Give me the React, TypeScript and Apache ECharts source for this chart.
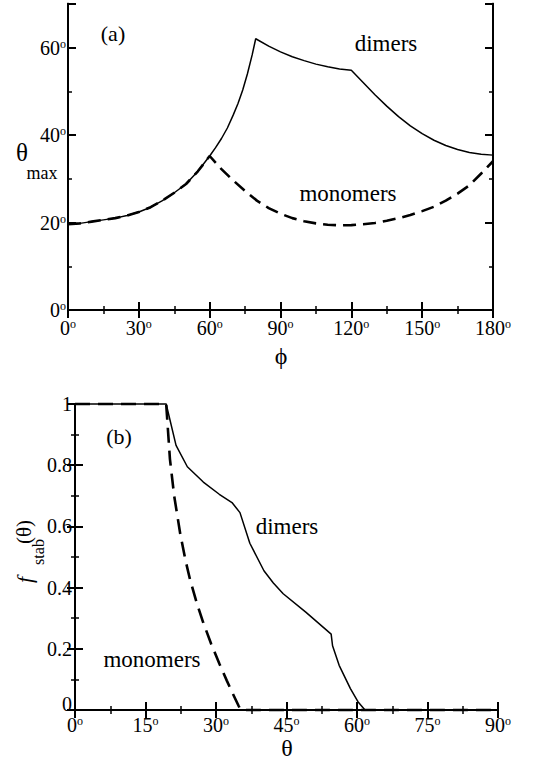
import React, { useEffect, useRef } from "react";
import * as echarts from "echarts";

// Panel (a): theta_max vs phi
const phiDimers = [0, 5, 10, 15, 20, 25, 30, 35, 40, 45, 50, 55, 60, 62.5, 65, 67.5, 70, 72, 74, 76, 78, 79.5, 85, 90, 95, 100, 105, 110, 115, 120, 125, 130, 135, 140, 145, 150, 155, 160, 165, 170, 175, 180];
const thetaMaxDimers = [19.6, 19.8, 20.2, 20.6, 21.0, 21.6, 22.4, 23.5, 25.0, 26.8, 28.8, 31.7, 35.2, 37.1, 39.2, 41.6, 44.6, 47.2, 50.3, 54, 58.3, 62, 60.3, 59, 57.9, 57, 56.2, 55.6, 55.1, 54.8, 52, 49.2, 46.6, 44.2, 42.1, 40.3, 38.8, 37.6, 36.7, 36.0, 35.6, 35.4];
const phiMonomers = [0, 5, 10, 15, 20, 25, 30, 35, 40, 45, 50, 55, 60, 65, 70, 75, 80, 85, 90, 95, 100, 105, 110, 115, 120, 125, 130, 135, 140, 145, 150, 155, 160, 165, 170, 175, 180];
const thetaMaxMonomers = [19.6, 19.8, 20.2, 20.6, 21.0, 21.6, 22.4, 23.5, 25.0, 26.8, 28.8, 31.7, 35.2, 32.2, 29.6, 27.2, 25.0, 23.3, 22.0, 21.0, 20.3, 19.8, 19.5, 19.35, 19.4, 19.6, 19.9, 20.4, 21.0, 21.7, 22.6, 23.6, 25.0, 26.6, 28.5, 31.2, 34];

// Panel (b): f_stab(theta)
const thetaDimers = [0, 19.4, 21.5, 23.9, 27.3, 30.7, 33.4, 35.1, 37.2, 40.2, 42.2, 44.3, 49.1, 54.5, 54.8, 56.2, 58.6, 60.2, 61.7, 90];
const fDimers = [1, 1, 0.865, 0.795, 0.745, 0.705, 0.678, 0.645, 0.545, 0.455, 0.415, 0.38, 0.32, 0.248, 0.21, 0.146, 0.07, 0.027, 0, 0];
const thetaMonomers = [0, 19.4, 20.2, 21.1, 22.4, 23.5, 24.5, 26, 27.3, 29, 30.7, 32.3, 33.5, 34.8, 35.25, 90];
const fMonomers = [1, 1, 0.82, 0.70, 0.575, 0.49, 0.425, 0.345, 0.285, 0.215, 0.152, 0.096, 0.056, 0.014, 0, 0];

const FONT = "Liberation Serif";

const zip = (xs: number[], ys: number[]) => xs.map((x, i) => [x, ys[i]]);

const degRich = {
  n: { fontSize: 20, fontFamily: FONT, color: "#000", lineHeight: 20 },
  d: { fontSize: 12, fontFamily: FONT, color: "#000", lineHeight: 12, verticalAlign: "top" as const },
};

function xAxisDef(gridIndex: number, max: number, interval: number, position: string, showLabel: boolean, margin: number) {
  return {
    type: "value",
    gridIndex,
    min: 0,
    max,
    interval,
    position,
    axisLine: { show: true, lineStyle: { color: "#000", width: 2 } },
    axisTick: { show: true, inside: true, length: 8, lineStyle: { color: "#000", width: 2 } },
    minorTick: { show: true, splitNumber: 2, length: 4, lineStyle: { color: "#000", width: 1.5 } },
    splitLine: { show: false },
    minorSplitLine: { show: false },
    axisLabel: {
      show: showLabel,
      margin,
      fontFamily: FONT,
      fontSize: 20,
      color: "#000",
      formatter: (v: number) => `{n|${Math.round(v)}}{d|o}`,
      rich: degRich,
    },
  };
}

export default function App() {
  const ref = useRef<HTMLDivElement>(null);
  useEffect(() => {
    if (!ref.current) return;
    const chart = echarts.init(ref.current, undefined, { renderer: "svg" });
    const yTickA = (position: string, interval: number, len: number, showLabel: boolean) => ({
      type: "value",
      gridIndex: 0,
      min: 0,
      max: 70,
      interval,
      position,
      axisLine: { show: true, lineStyle: { color: "#000", width: 2 } },
      axisTick: { show: true, inside: true, length: len, lineStyle: { color: "#000", width: len > 5 ? 2 : 1.5 } },
      splitLine: { show: false },
      axisLabel: {
        show: showLabel,
        margin: 2,
        fontFamily: FONT,
        fontSize: 20,
        color: "#000",
        formatter: (v: number) => (v % 20 === 0 && v <= 60 ? `{n|${Math.round(v)}}{d|o}` : ""),
        rich: degRich,
      },
    });
    const yB = (position: string, showLabel: boolean) => ({
      type: "value",
      gridIndex: 1,
      min: 0,
      max: 1,
      interval: 0.2,
      position,
      axisLine: { show: true, lineStyle: { color: "#000", width: 2 } },
      axisTick: { show: true, inside: true, length: 8, lineStyle: { color: "#000", width: 2 } },
      minorTick: { show: true, splitNumber: 2, length: 4, lineStyle: { color: "#000", width: 1.5 } },
      splitLine: { show: false },
      minorSplitLine: { show: false },
      axisLabel: {
        show: showLabel,
        margin: 3,
        fontFamily: FONT,
        fontSize: 20,
        color: "#000",
        formatter: (v: number) =>
          Math.abs(v) < 1e-9 ? "{z|0}" : Math.abs(v - 1) < 1e-9 ? "{n|1}" : `{n|${v.toFixed(1)}}`,
        rich: {
          n: { fontSize: 20, fontFamily: FONT, color: "#000", lineHeight: 20 },
          z: { fontSize: 20, fontFamily: FONT, color: "#000", lineHeight: 14, padding: [0, 0, 12, 0] },
        },
      },
    });
    const txt = (text: string, x: number, y: number, size: number, rotation = 0, italic = false) => ({
      type: "text",
      x,
      y,
      rotation,
      silent: true,
      style: {
        text,
        fill: "#000",
        fontSize: size,
        fontFamily: FONT,
        fontStyle: italic ? "italic" : "normal",
        align: "center",
        verticalAlign: "middle",
      },
    });
    const option: any = {
      animation: false,
      backgroundColor: "#fff",
      textStyle: { fontFamily: FONT },
      grid: [
        { left: 68, top: 3.75, width: 425, height: 306.25, show: false },
        { left: 75, top: 404, width: 423, height: 306, show: false },
      ],
      xAxis: [
        xAxisDef(0, 180, 30, "bottom", true, 8),
        xAxisDef(0, 180, 30, "top", false, 8),
        xAxisDef(1, 90, 15, "bottom", true, 5),
        xAxisDef(1, 90, 15, "top", false, 5),
      ],
      yAxis: [
        yTickA("left", 10, 4, true),
        yTickA("left", 20, 8, false),
        yTickA("right", 10, 4, false),
        yTickA("right", 20, 8, false),
        yB("left", true),
        yB("right", false),
      ],
      series: [
        {
          type: "line",
          name: "dimers",
          xAxisIndex: 0,
          yAxisIndex: 0,
          data: zip(phiDimers, thetaMaxDimers),
          showSymbol: false,
          lineStyle: { color: "#000", width: 1.5 },
          clip: false,
        },
        {
          type: "line",
          name: "monomers",
          xAxisIndex: 0,
          yAxisIndex: 0,
          data: zip(phiMonomers, thetaMaxMonomers),
          showSymbol: false,
          lineStyle: { color: "#000", width: 2.6, type: [13, 7] },
          clip: false,
        },
        {
          type: "line",
          name: "dimers b",
          xAxisIndex: 2,
          yAxisIndex: 4,
          data: zip(thetaDimers, fDimers),
          showSymbol: false,
          lineStyle: { color: "#000", width: 1.5 },
          clip: false,
        },
        {
          type: "line",
          name: "monomers b",
          xAxisIndex: 2,
          yAxisIndex: 4,
          data: zip(thetaMonomers, fMonomers),
          showSymbol: false,
          lineStyle: { color: "#000", width: 2.6, type: [15, 8] },
          clip: false,
        },
      ],
      graphic: [
        txt("(a)", 113, 33, 22),
        txt("dimers", 386, 43, 23),
        txt("monomers", 348, 193, 23),
        txt("ϕ", 281, 356, 24),
        txt("θ", 22, 152, 25),
        txt("max", 42, 173, 18),
        txt("(b)", 119, 436, 22),
        txt("dimers", 287, 526, 23),
        txt("monomers", 152, 659, 23),
        txt("θ", 287, 748, 24),
        txt("f", 24, 580, 22, Math.PI / 2, true),
        txt("stab", 38, 552, 16, Math.PI / 2),
        txt("(θ)", 24, 532, 21, Math.PI / 2),
      ],
    };
    chart.setOption(option);
    return () => chart.dispose();
  }, []);
  return (
    <div
      ref={ref}
      style={{ position: "absolute", left: 0, top: 0, width: 540, height: 760, background: "#fff" }}
    />
  );
}
